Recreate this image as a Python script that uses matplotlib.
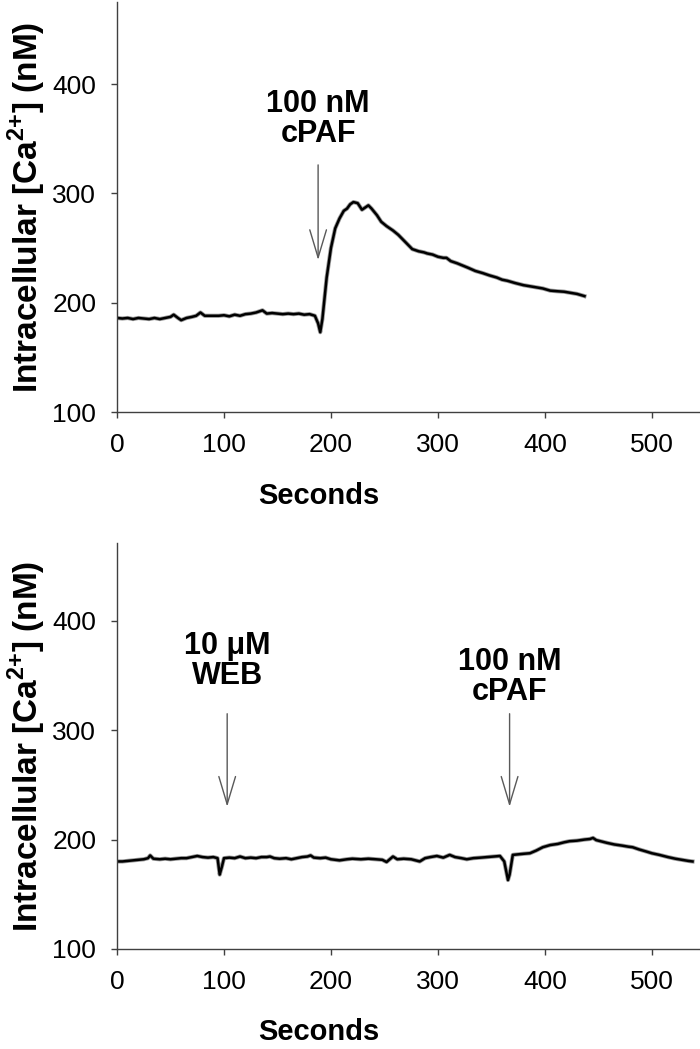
import numpy as np
import matplotlib
matplotlib.use("Agg")
import matplotlib.pyplot as plt
from matplotlib import font_manager

# fura-2 calcium traces
t_top = [0, 5, 10, 15, 20, 25, 30, 35, 40, 45, 50, 53, 57, 60, 65, 70, 74, 78, 82,
         90, 95, 100, 105, 110, 115, 120, 125, 130, 136, 140, 145, 150, 155, 160,
         165, 170, 175, 180, 185, 188, 190, 192, 196, 200, 204, 208, 212, 215, 218,
         221, 225, 229, 232, 235, 238, 243, 247, 252, 258, 263, 268, 272, 276, 282,
         287, 290, 295, 300, 305, 308, 312, 318, 323, 328, 335, 342, 348, 355, 360,
         365, 372, 380, 386, 392, 398, 405, 411, 418, 424, 430, 437]
ca_top = [186, 185.5, 186, 185, 186, 185.5, 185, 186, 185, 186, 187, 189, 186, 184,
          186, 187, 188, 191, 188, 188, 188, 188.5, 187.5, 189, 188, 189.5, 190, 191,
          193, 190, 190.5, 190, 189.5, 190, 189.5, 190, 189, 189.5, 188, 181, 173,
          185, 223, 250, 268, 277, 284, 286, 290, 292, 291, 285, 287, 289, 286, 280,
          274, 270, 266, 262, 257, 253, 249, 247, 246, 245, 244, 242, 241, 241, 238,
          236, 234, 232, 229, 227, 225, 223, 221, 220, 218, 216, 215, 214, 213, 211,
          210.5, 210, 209, 208, 206]

t_bot = [0, 5, 10, 15, 20, 25, 29, 31, 34, 40, 45, 50, 55, 60, 65, 70, 75, 80, 85,
         90, 94, 96, 98, 100, 105, 110, 115, 120, 125, 130, 135, 140, 143, 147, 152,
         158, 163, 168, 173, 178, 181, 184, 190, 195, 200, 208, 215, 220, 228, 235,
         242, 248, 252, 258, 262, 268, 275, 283, 288, 293, 299, 305, 311, 316, 322,
         327, 333, 340, 346, 352, 358, 362, 365.5, 367, 370, 375, 380, 386, 392, 398,
         405, 412, 418, 423, 430, 437, 442, 445, 448, 452, 458, 465, 472, 478, 482,
         488, 495, 500, 507, 515, 522, 528, 534, 538]
ca_bot = [180, 180, 180.5, 181, 181.5, 182, 183, 185.5, 182.5, 182, 182.5, 182,
          182.5, 183, 183, 184, 185, 184, 183.5, 184, 183, 168, 175, 183, 183.5, 183,
          184.5, 183, 183.5, 183, 184, 184, 184.5, 183, 182.5, 183, 182, 183, 184,
          184.5, 185.5, 183.5, 183, 183.5, 182, 181, 182, 182.5, 182, 182.5, 182,
          181.5, 179.5, 184.5, 182, 182.5, 182, 180, 183, 184, 185, 183.5, 186, 184,
          183, 182, 183, 183.5, 184, 184.5, 185, 180, 163, 168, 186, 186.5, 187,
          187.5, 190, 193, 195, 196, 197.5, 198.5, 199, 200, 200.5, 201.5, 199.5,
          198.5, 197, 195.5, 194.5, 193.5, 193, 191, 189, 187.5, 186, 184, 182.5,
          181.5, 180.5, 180]

# additions: label, time of addition, arrow start/tip, text centre
add_top = [("100 nM\ncPAF", 188, 326, 239, 368)]
add_bot = [("10 \u03bcM\nWEB", 103, 315, 230, 363),
           ("100 nM\ncPAF", 367, 315, 230, 349)]

x_ticks = [0, 100, 200, 300, 400, 500]
y_ticks = [100, 200, 300, 400]


def pick(names):
    for n in names:
        try:
            font_manager.findfont(font_manager.FontProperties(family=n),
                                  fallback_to_default=False)
            return n
        except ValueError:
            pass
    return "DejaVu Sans"

narrow = pick(["Liberation Sans Narrow", "Liberation Sans"])
plain = pick(["Liberation Sans", "DejaVu Sans"])
plt.rcParams['font.family'] = plain
plt.rcParams['mathtext.fontset'] = 'custom'
plt.rcParams['mathtext.rm'] = narrow
plt.rcParams['mathtext.bf'] = narrow + ':bold'

W, H = 700, 1049
fig = plt.figure(figsize=(W / 100, H / 100), dpi=100)
ax1 = fig.add_axes([117 / W, 1 - 412 / H, (W - 117) / W, 410 / H])
ax2 = fig.add_axes([117 / W, 1 - 949 / H, (W - 117) / W, 406 / H])

panels = [(ax1, t_top, ca_top, add_top, 475), (ax2, t_bot, ca_bot, add_bot, 471)]
for ax, t, ca, adds, ymax in panels:
    ax.plot(t, ca, color='0.6', lw=3.0, solid_joinstyle='round')
    ax.plot(t, ca, color='black', lw=1.8, solid_joinstyle='round')
    ax.set_xlim(0, 545)
    ax.set_ylim(100, ymax)
    ax.set_xticks(x_ticks)
    ax.set_yticks(y_ticks)
    for s in ['top', 'right']:
        ax.spines[s].set_visible(False)
    for s in ['left', 'bottom']:
        ax.spines[s].set_color('0.25')
        ax.spines[s].set_linewidth(1.0)
    ax.tick_params(direction='out', length=4, width=1, color='0.25',
                   labelsize=19, pad=11)
    ax.set_xlabel('Seconds', family=narrow, fontweight='bold', fontsize=21,
                  va='center')
    ax.xaxis.set_label_coords(0.346, -0.204)
    ax.set_ylabel(r'Intracellular [Ca$^{\mathbf{2{+}}}$] (nM)', family=narrow,
                  fontweight='bold', fontsize=24, va='center')
    ax.yaxis.set_label_coords(-0.154, 0.5)

    for label, tx, y0, y1, ytxt in adds:
        ax.annotate('', xy=(tx, y1), xytext=(tx, y0),
                    arrowprops=dict(arrowstyle='->, head_length=2.0, head_width=0.6',
                                    mutation_scale=10, color='0.35', lw=1,
                                    shrinkA=0, shrinkB=0))
        ax.text(tx, ytxt, label, ha='center', va='center', multialignment='center',
                fontsize=22, fontweight='bold', linespacing=1.0)

fig.savefig('out.png', dpi=100)
